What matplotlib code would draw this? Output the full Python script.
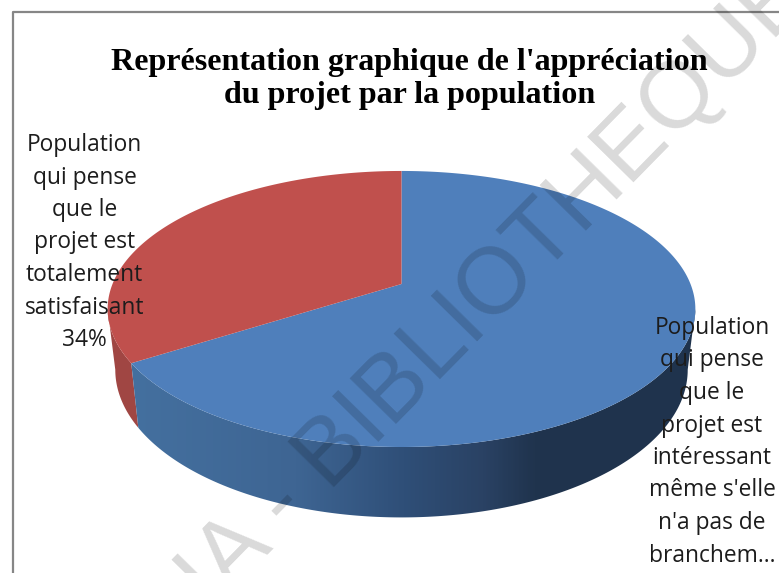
import numpy as np
import matplotlib
matplotlib.use("Agg")
import matplotlib.pyplot as plt
from matplotlib.patches import Polygon
from matplotlib.colors import LinearSegmentedColormap

title = "Représentation graphique de l'appréciation\ndu projet par la population"
shares = [66, 34]   # blue, red
colors_top = ["#4f7fbb", "#c0504d"]
label_red = ["Population", "qui pense", "que le", "projet est", "totalement", "satisfaisant", "34%"]
label_blue = ["Population", "qui pense", "que le", "projet est", "intéressant",
              "même s'elle", "n'a pas de", "branchem…"]
watermark = "CODESRIA - BIBLIOTHEQUE"

# pie geometry in pixels, with a bit of perspective
cx, cy = 401.5, 284
rx, ry = 289, 133.5
persp = 0.181
depth = 59
scale_x, scale_y = 0.974, 1.07


def top_pts(a):
    u, v = np.cos(a), np.sin(a)
    w = 1 + persp * v
    return cx + rx * u / w, cy - ry * v / w


def bottom_pts(a):
    u, v = np.cos(a), np.sin(a)
    w = 1 + persp * v
    return cx + scale_x * rx * u / w, cy + depth - scale_y * ry * v / w


def wall(a):
    # outline of the side wall between the angles in a
    xt, yt = top_pts(a)
    xb, yb = bottom_pts(a)
    return np.c_[np.r_[xt, xb[::-1]], np.r_[yt, yb[::-1]]]


fig = plt.figure(figsize=(7.79, 5.73), dpi=100)
ax = fig.add_axes([0, 0, 1, 1])

# frame
ax.plot([13, 13, 779], [573, 12, 12], color="#868686", lw=1.6, zorder=1)

# slice angles, starting at 12 o'clock and going counter clockwise with the red one
red_start = np.pi / 2
red_end = red_start + 2 * np.pi * shares[1] / sum(shares)
blue_end = red_start + 2 * np.pi
tangent = np.arcsin(persp)   # where the outline leaves the top ellipse on both sides

# red side wall
ax.add_patch(Polygon(wall(np.linspace(np.pi + tangent, red_end, 80)), color="#a04643", lw=0, zorder=2))

# blue side wall, shaded from left to right
side_cmap = LinearSegmentedColormap.from_list(
    "side", [(0, "#44709f"), (0.29, "#3e6593"), (0.48, "#2f4f78"),
             (0.62, "#2a4264"), (0.71, "#20344e"), (1, "#1f334d")])
im = ax.imshow(np.linspace(0, 1, 400).reshape(1, -1), cmap=side_cmap, aspect="auto",
               extent=(130, 700, 573, 0), zorder=2)
clip = Polygon(wall(np.linspace(red_end, 2 * np.pi - tangent, 300)), transform=ax.transData)
im.set_clip_path(clip)

# top faces
a = np.linspace(red_end, blue_end, 400)
x, y = top_pts(a)
ax.fill(np.r_[cx, x], np.r_[cy, y], color=colors_top[0], lw=0, zorder=3)
a = np.linspace(red_start, red_end, 200)
x, y = top_pts(a)
ax.fill(np.r_[cx, x], np.r_[cy, y], color=colors_top[1], lw=0, zorder=3)

ax.set_xlim(0, 779)
ax.set_ylim(573, 0)
ax.axis("off")

ax.text(409.5, 79, title, ha="center", va="center", family="Liberation Serif",
        weight="bold", fontsize=23.1, linespacing=1.18, color="black", zorder=5)

for i, line in enumerate(label_red):
    ax.text(84.5, 145 + i * 32.5, line, ha="center", va="center", family="Open Sans",
            fontsize=16.4, color="#1c1c1c", zorder=5)
for i, line in enumerate(label_blue):
    ax.text(712, 328 + i * 32.5, line, ha="center", va="center", family="Open Sans",
            fontsize=16.4, color="#1c1c1c", zorder=5)

# watermark across the whole picture
ax.text(356, 430, watermark, ha="center", va="center", rotation=45.5, rotation_mode="anchor",
        family="Liberation Sans", fontsize=67.5, color="black", alpha=0.15, zorder=6)

fig.savefig("out.png", dpi=100)
